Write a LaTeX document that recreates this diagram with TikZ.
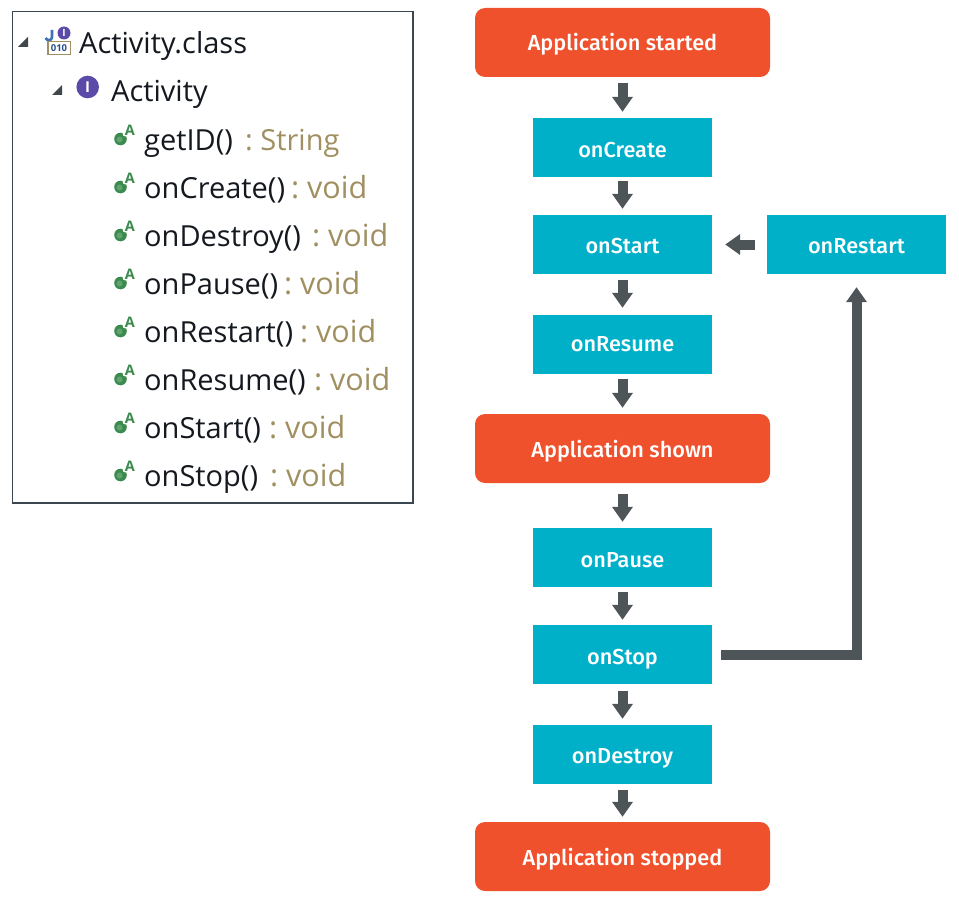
\documentclass[tikz,border=0pt]{standalone}
\usepackage{fontspec}
\setmainfont{Open Sans}
\newfontfamily\flowfont{Fira Sans Medium}
\newfontfamily\treefont{Open Sans}
\usetikzlibrary{arrows.meta}
\definecolor{orangebox}{HTML}{F0512D}
\definecolor{tealbox}{HTML}{00AFC8}
\definecolor{arrowgrey}{HTML}{4D5559}
\definecolor{panelline}{HTML}{3A4650}
\definecolor{typecol}{HTML}{A08F60}
\definecolor{treetext}{HTML}{14181F}
\definecolor{greenicon}{HTML}{3B8A4E}
\definecolor{greenlight}{HTML}{5FA36E}
\definecolor{purpleicon}{HTML}{5B4AA8}
\definecolor{jblue}{HTML}{3F73B5}
\definecolor{binblue}{HTML}{2A4E8A}
\tikzset{
  x=1pt,y=-1pt,
  flowtext/.style={text=white,font=\flowfont\fontsize{21.7}{21.7}\selectfont,text depth=0pt},
  startbox/.style={fill=orangebox,rounded corners=10pt,minimum width=295pt,minimum height=69pt,inner sep=0pt,flowtext,text height=17pt},
  callbox/.style={fill=tealbox,minimum width=179pt,minimum height=59pt,inner sep=0pt,flowtext,text height=19pt},
  flowarrow/.style={draw=arrowgrey,line width=10pt,-{Triangle[width=20pt,length=15pt,fill=arrowgrey]}},
  treelabel/.style={anchor=base west,inner sep=0pt,text=treetext,font=\treefont\fontsize{29}{29}\selectfont},
  typelabel/.style={anchor=base west,inner sep=0pt,text=typecol,font=\treefont\fontsize{29}{29}\selectfont},
  voidlabel/.style={typelabel,font=\treefont\fontsize{30.5}{30.5}\selectfont},
  expander/.style={fill=arrowgrey!85!black},
}
\newcommand{\methodicon}[1]{%
  \fill[greenicon] (120.5,#1) circle (6.3pt);
  \fill[greenlight] (119.5,#1+0.5) circle (3pt);
  \fill[white] (125.5,#1-5.5) circle (3pt);
  \node[inner sep=0pt,text=greenicon,font=\treefont\bfseries\fontsize{14.5}{14.5}\selectfont] at (130,#1-9) {A};
}
\begin{document}
\begin{tikzpicture}
\useasboundingbox (0,0) rectangle (959,907);
\fill[white] (0,0) rectangle (959,907);
% panel
\draw[panelline,line width=1.5pt] (12.5,11.5) rectangle (413,503);
% expanders
\fill[expander] (28,37) -- (28,47) -- (18,47) -- cycle;
\fill[expander] (62,85) -- (62,95) -- (52,95) -- cycle;
% class icon
\draw[jblue,line width=2.6pt] (52,30) -- (52,37) .. controls (52,41) and (47,41) .. (45.5,38);
\draw[typecol,line width=1.2pt,fill=white] (48,41.5) rectangle (70.5,54.5);
\node[inner sep=0pt,text=binblue,font=\treefont\bfseries\fontsize{9.5}{9.5}\selectfont] at (59,48) {010};
\fill[purpleicon] (64,33) circle (6.5pt);
\node[inner sep=0pt,text=white,font=\treefont\bfseries\fontsize{10}{10}\selectfont] at (64,33) {I};
% interface icon
\fill[purpleicon] (87.7,87) circle (11.3pt);
\node[inner sep=0pt,text=white,font=\treefont\bfseries\fontsize{15}{15}\selectfont] at (87.7,87) {I};
% tree labels
\node[treelabel] (tclass) at (79,54) {Activity.class};
\node[treelabel] (tact) at (111,102) {Activity};
\node[treelabel] (m1) at (144,150) {getID()};
\node[typelabel] (t1) at (245,150) {:~String};
\node[treelabel] (m2) at (144,198) {onCreate()};
\node[voidlabel] (t2) at (291,198) {:~void};
\node[treelabel] (m3) at (144,246) {onDestroy()};
\node[voidlabel] (t3) at (312,246) {:~void};
\node[treelabel] (m4) at (144,294) {onPause()};
\node[voidlabel] (t4) at (284,294) {:~void};
\node[treelabel] (m5) at (144,342) {onRestart()};
\node[voidlabel] (t5) at (300,342) {:~void};
\node[treelabel] (m6) at (144,390) {onResume()};
\node[voidlabel] (t6) at (314,390) {:~void};
\node[treelabel] (m7) at (144,438) {onStart()};
\node[voidlabel] (t7) at (269,438) {:~void};
\node[treelabel] (m8) at (144,486) {onStop()};
\node[voidlabel] (t8) at (270,486) {:~void};
\methodicon{139}\methodicon{187}\methodicon{235}\methodicon{283}\methodicon{331}\methodicon{379}\methodicon{427}\methodicon{475}
% flow nodes
\node[startbox] (started) at (622.5,42.5) {Application started};
\node[callbox] (create) at (622.5,147.5) {onCreate};
\node[callbox,text height=17pt] (start) at (622.5,244.5) {onStart};
\node[callbox,text height=17pt] (restart) at (856.5,244.5) {onRestart};
\node[callbox,text height=13.4pt] (resume) at (622.5,344.5) {onResume};
\node[startbox] (shown) at (622.5,448.5) {Application shown};
\node[callbox] (pause) at (622.5,557.5) {onPause};
\node[callbox] (stop) at (622.5,654.5) {onStop};
\node[callbox,text height=18.4pt] (destroy) at (622.5,754.5) {onDestroy};
\node[startbox] (stopped) at (622.5,856.5) {Application stopped};
% connectors
\draw[flowarrow,shorten <=6pt,shorten >=6pt] (started) -- (create);
\draw[flowarrow,shorten <=4pt,shorten >=6pt] (create) -- (start);
\draw[flowarrow,shorten <=6pt,shorten >=7pt] (start) -- (resume);
\draw[flowarrow,shorten <=5pt,shorten >=6pt] (resume) -- (shown);
\draw[flowarrow,shorten <=11pt,shorten >=6pt] (shown) -- (pause);
\draw[flowarrow,shorten <=5pt,shorten >=5pt] (pause) -- (stop);
\draw[flowarrow,shorten <=7pt,shorten >=6pt] (stop) -- (destroy);
\draw[flowarrow,shorten <=6pt,shorten >=5pt] (destroy) -- (stopped);
\draw[flowarrow,shorten <=12pt,shorten >=13pt] (restart) -- (start);
\draw[flowarrow,shorten <=9pt,shorten >=13pt] (stop.east) -- (stop.east -| restart) -- (restart.south);
\end{tikzpicture}
\end{document}
